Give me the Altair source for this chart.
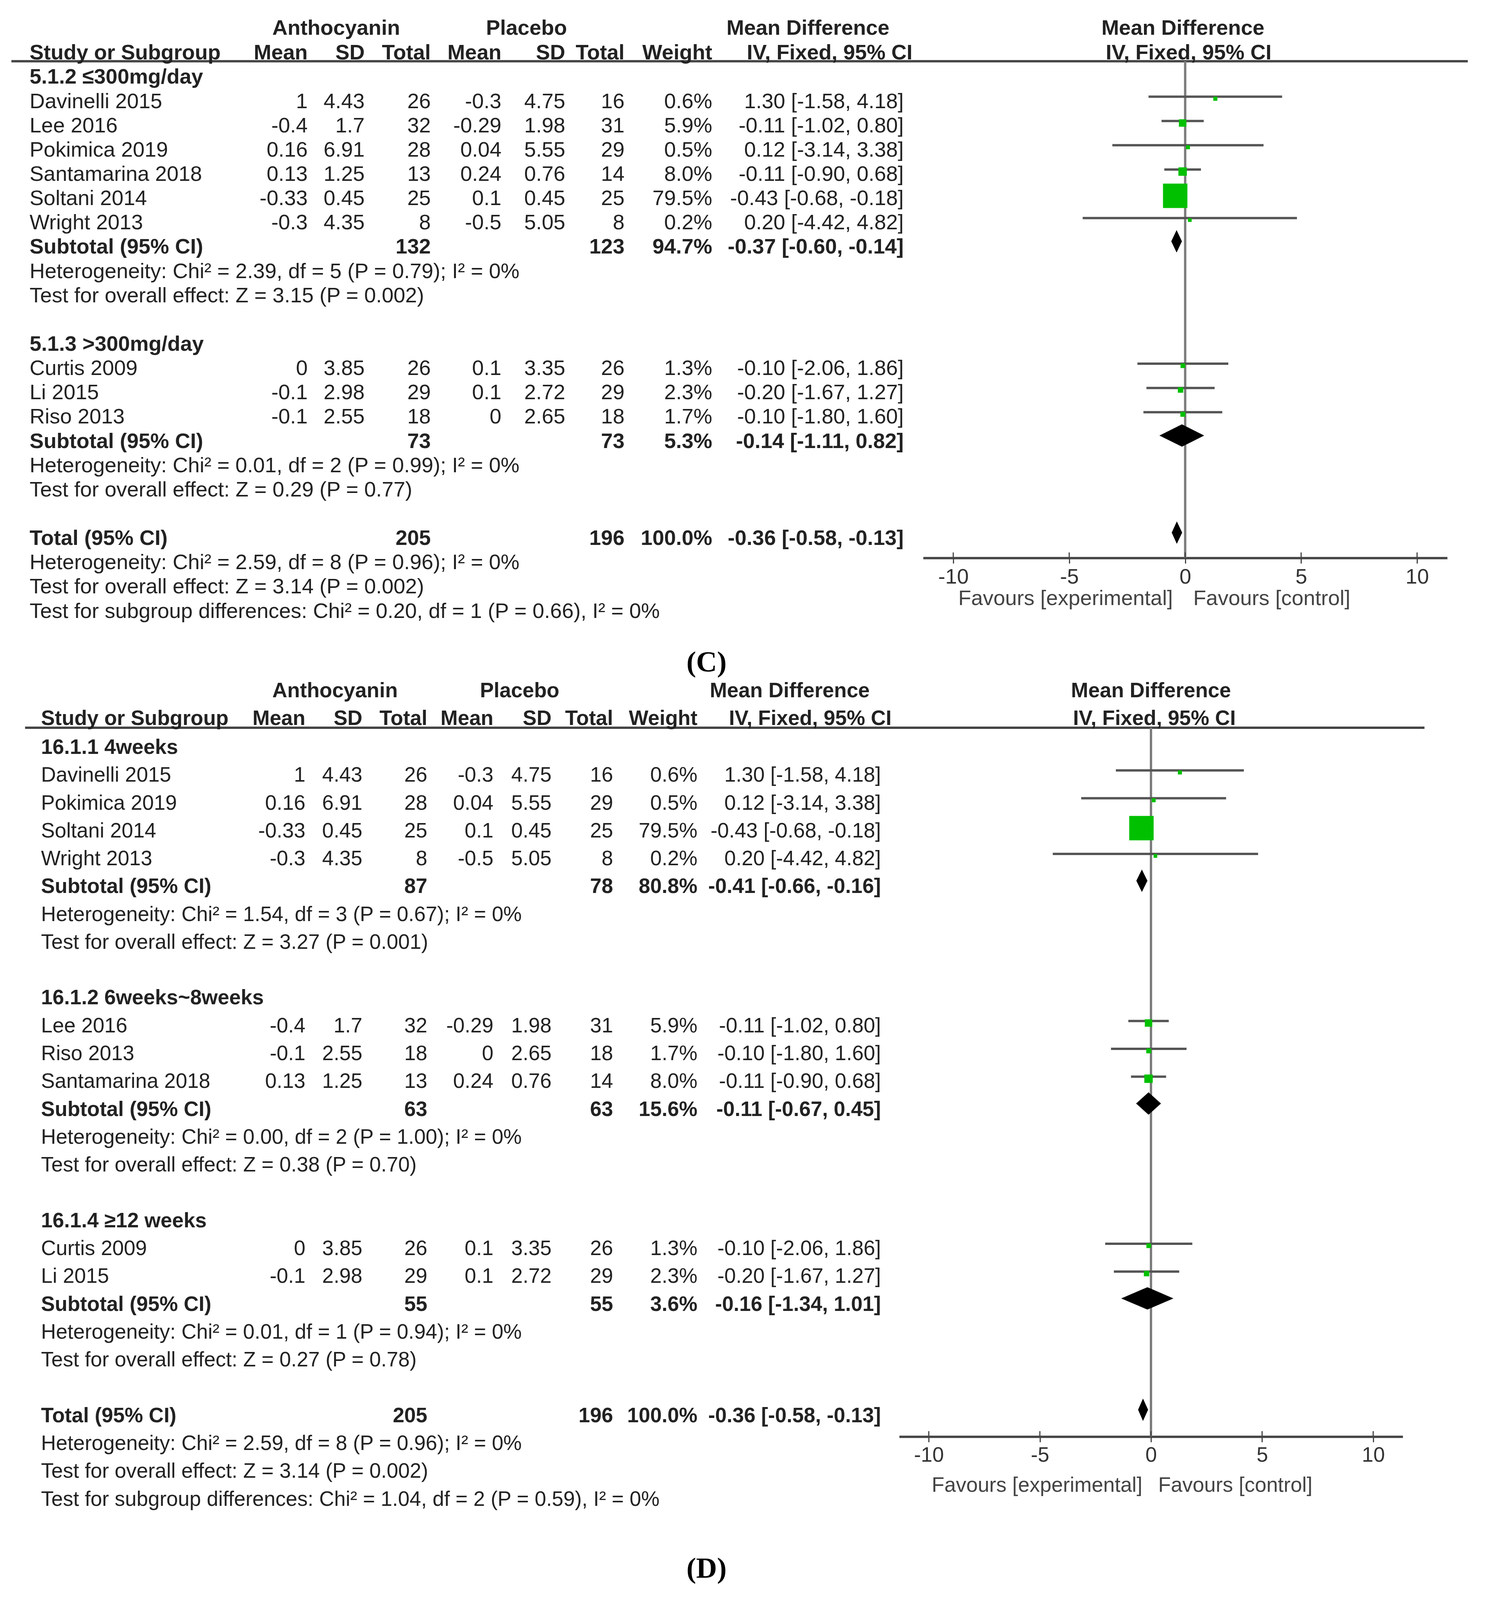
import altair as alt
import pandas as pd

# ---------------- data ----------------
STUDIES = ["Davinelli 2015", "Lee 2016", "Pokimica 2019", "Santamarina 2018", "Soltani 2014",
           "Wright 2013", "Curtis 2009", "Li 2015", "Riso 2013"]
A_MEAN = ["1", "-0.4", "0.16", "0.13", "-0.33", "-0.3", "0", "-0.1", "-0.1"]
A_SD = ["4.43", "1.7", "6.91", "1.25", "0.45", "4.35", "3.85", "2.98", "2.55"]
A_N = [26, 32, 28, 13, 25, 8, 26, 29, 18]
P_MEAN = ["-0.3", "-0.29", "0.04", "0.24", "0.1", "-0.5", "0.1", "0.1", "0"]
P_SD = ["4.75", "1.98", "5.55", "0.76", "0.45", "5.05", "3.35", "2.72", "2.65"]
P_N = [16, 31, 29, 14, 25, 8, 26, 29, 18]
WEIGHT = [0.6, 5.9, 0.5, 8.0, 79.5, 0.2, 1.3, 2.3, 1.7]
MD = [1.30, -0.11, 0.12, -0.11, -0.43, 0.20, -0.10, -0.20, -0.10]
LO = [-1.58, -1.02, -3.14, -0.90, -0.68, -4.42, -2.06, -1.67, -1.80]
HI = [4.18, 0.80, 3.38, 0.68, -0.18, 4.82, 1.86, 1.27, 1.60]

C_TITLES = ["5.1.2 \u2264300mg/day", "5.1.3 >300mg/day"]
C_MEMBERS = [["Davinelli 2015", "Lee 2016", "Pokimica 2019", "Santamarina 2018", "Soltani 2014", "Wright 2013"],
             ["Curtis 2009", "Li 2015", "Riso 2013"]]
C_SUB_NA = [132, 73]
C_SUB_NP = [123, 73]
C_SUB_W = [94.7, 5.3]
C_SUB_MD = [-0.37, -0.14]
C_SUB_LO = [-0.60, -1.11]
C_SUB_HI = [-0.14, 0.82]
C_HET = ["Heterogeneity: Chi\u00b2 = 2.39, df = 5 (P = 0.79); I\u00b2 = 0%",
         "Heterogeneity: Chi\u00b2 = 0.01, df = 2 (P = 0.99); I\u00b2 = 0%"]
C_TEST = ["Test for overall effect: Z = 3.15 (P = 0.002)",
          "Test for overall effect: Z = 0.29 (P = 0.77)"]
C_TOTAL = [205, 196, 100.0, -0.36, -0.58, -0.13]
C_FOOT = ["Heterogeneity: Chi\u00b2 = 2.59, df = 8 (P = 0.96); I\u00b2 = 0%",
          "Test for overall effect: Z = 3.14 (P = 0.002)",
          "Test for subgroup differences: Chi\u00b2 = 0.20, df = 1 (P = 0.66), I\u00b2 = 0%"]

D_TITLES = ["16.1.1 4weeks", "16.1.2 6weeks~8weeks", "16.1.4 \u226512 weeks"]
D_MEMBERS = [["Davinelli 2015", "Pokimica 2019", "Soltani 2014", "Wright 2013"],
             ["Lee 2016", "Riso 2013", "Santamarina 2018"],
             ["Curtis 2009", "Li 2015"]]
D_SUB_NA = [87, 63, 55]
D_SUB_NP = [78, 63, 55]
D_SUB_W = [80.8, 15.6, 3.6]
D_SUB_MD = [-0.41, -0.11, -0.16]
D_SUB_LO = [-0.66, -0.67, -1.34]
D_SUB_HI = [-0.16, 0.45, 1.01]
D_HET = ["Heterogeneity: Chi\u00b2 = 1.54, df = 3 (P = 0.67); I\u00b2 = 0%",
         "Heterogeneity: Chi\u00b2 = 0.00, df = 2 (P = 1.00); I\u00b2 = 0%",
         "Heterogeneity: Chi\u00b2 = 0.01, df = 1 (P = 0.94); I\u00b2 = 0%"]
D_TEST = ["Test for overall effect: Z = 3.27 (P = 0.001)",
          "Test for overall effect: Z = 0.38 (P = 0.70)",
          "Test for overall effect: Z = 0.27 (P = 0.78)"]
D_TOTAL = [205, 196, 100.0, -0.36, -0.58, -0.13]
D_FOOT = ["Heterogeneity: Chi\u00b2 = 2.59, df = 8 (P = 0.96); I\u00b2 = 0%",
          "Test for overall effect: Z = 3.14 (P = 0.002)",
          "Test for subgroup differences: Chi\u00b2 = 1.04, df = 2 (P = 0.59), I\u00b2 = 0%"]

TICKS = [-10, -5, 0, 5, 10]
HEAD1 = ["Anthocyanin", "Placebo", "Mean Difference", "Mean Difference"]
HEAD2 = ["Mean", "SD", "Total", "Mean", "SD", "Total", "Weight"]
HEAD_IV = "IV, Fixed, 95% CI"
FAVOURS = ["Favours [experimental]", "Favours [control]"]

# ---------------- style / layout ----------------
SX = 3824 / 1311.0         # preview units -> page px, horizontal
SY = 2.611                 # preview units -> page px, vertical (fits the photographed area)
FONT = "Liberation Sans"
SERIF = "Liberation Serif"
TXT = "#222222"
LINE = "#454545"
GREEN = "#00c000"
W = 3808
TOP_D = round(663 * SY)
H_C = TOP_D - 8
H_D = 4080 - TOP_D


def fmt_ci(md, lo, hi):
    return f"{md:.2f} [{lo:.2f}, {hi:.2f}]"


def build_tables(titles, members, sna, snp, sw, smd, slo, shi, het, test, total, foot):
    rows, studies, diam = [], [], []
    r = 0
    for g in range(len(titles)):
        rows.append(dict(row=r, label=titles[g], bold=True)); r += 1
        for s in members[g]:
            i = STUDIES.index(s)
            rows.append(dict(row=r, label=s, amean=A_MEAN[i], asd=A_SD[i], an=str(A_N[i]),
                             pmean=P_MEAN[i], psd=P_SD[i], pn=str(P_N[i]),
                             weight=f"{WEIGHT[i]:.1f}%", ci=fmt_ci(MD[i], LO[i], HI[i]), bold=False))
            studies.append(dict(row=r, md=MD[i], lo=LO[i], hi=HI[i], w=WEIGHT[i]))
            r += 1
        rows.append(dict(row=r, label="Subtotal (95% CI)", an=str(sna[g]), pn=str(snp[g]),
                         weight=f"{sw[g]:.1f}%", ci=fmt_ci(smd[g], slo[g], shi[g]), bold=True))
        diam.append(dict(row=r, md=smd[g], lo=slo[g], hi=shi[g]))
        r += 1
        rows.append(dict(row=r, label=het[g], bold=False)); r += 1
        rows.append(dict(row=r, label=test[g], bold=False)); r += 1
        r += 1
    rows.append(dict(row=r, label="Total (95% CI)", an=str(total[0]), pn=str(total[1]),
                     weight=f"{total[2]:.1f}%", ci=fmt_ci(total[3], total[4], total[5]), bold=True))
    diam.append(dict(row=r, md=total[3], lo=total[4], hi=total[5]))
    r += 1
    for f in foot:
        rows.append(dict(row=r, label=f, bold=False)); r += 1
    df = pd.DataFrame(rows)
    for c in ["amean", "asd", "an", "pmean", "psd", "pn", "weight", "ci"]:
        df[c] = df[c].fillna("")
    return df, pd.DataFrame(studies), diam


def panel(cfg, tables):
    df, studies, diam = tables
    H = cfg["H"]
    top = cfg["top"]
    yy = lambda v: v * SY - top
    xx = lambda v: v * SX - 8
    row0 = yy(cfg["row0"])
    step = cfg["step"] * SY
    fs = cfg["fs"]
    ysc = alt.Scale(domain=[(0 - row0) / step, (H - row0) / step], reverse=True, nice=False, zero=False)
    zero = xx(cfg["zero"])
    unit = cfg["unit"] * SX
    half = cfg["half"]
    xsc = alt.Scale(domain=[-half, half], range=[zero - half * unit, zero + half * unit], nice=False, zero=False)
    axis_y = yy(cfg["axis"])
    line_y = yy(cfg["line"])
    axis = alt.Axis(values=TICKS, title=None, grid=False, orient="bottom", offset=-(H - axis_y),
                    domainColor=LINE, domainWidth=6, tickColor=LINE, tickWidth=3, tickSize=14,
                    labelFont=FONT, labelFontSize=fs, labelColor="#333333", labelPadding=8,
                    labelExpr="'' + datum.value", labelFlush=False)

    def X(f):
        return alt.X(f, type="quantitative", scale=xsc, axis=axis)

    def Y(f):
        return alt.Y(f, type="quantitative", scale=ysc, axis=None, stack=None)

    sh = SY / step  # one preview unit in row units
    one = pd.DataFrame({"a": [0]})
    layers = []
    layers.append(alt.Chart(one).mark_rule(color=LINE, strokeWidth=6).encode(
        x=alt.value(xx(cfg["lx1"])), x2=alt.value(xx(cfg["lx2"])), y=alt.value(line_y)))
    layers.append(alt.Chart(pd.DataFrame({"z": [0]})).mark_rule(color="#7c7c7c", strokeWidth=6).encode(
        x=X("z"), y=alt.value(line_y), y2=alt.value(axis_y)))
    layers.append(alt.Chart(pd.DataFrame({"t": TICKS})).mark_rule(color=LINE, strokeWidth=3).encode(
        x=X("t"), y=alt.value(axis_y - 14), y2=alt.value(axis_y)))
    st = studies.copy()
    st["yl"] = st["row"] - 5.0 * sh
    st["ys"] = st["row"] - 3.0 * sh
    layers.append(alt.Chart(st).mark_rule(color="#555555", strokeWidth=6).encode(
        x=X("lo"), x2="hi", y=Y("yl")))
    layers.append(alt.Chart(st).mark_square(color=GREEN, filled=True, opacity=1).encode(
        x=X("md"), y=Y("ys"),
        size=alt.Size("w", type="quantitative", scale=alt.Scale(domain=[0, 79.5], range=[80, 3900]), legend=None)))
    hh = 11.0 * sh
    off = 6.0 * sh
    pts = []
    for k, d in enumerate(diam):
        yc = d["row"] - off
        pts.append(dict(id=k, dx=d["lo"], y1=yc, y2=yc))
        pts.append(dict(id=k, dx=d["md"], y1=yc - hh, y2=yc + hh))
        pts.append(dict(id=k, dx=d["hi"], y1=yc, y2=yc))
    layers.append(alt.Chart(pd.DataFrame(pts)).mark_area(color="black", orient="vertical", opacity=1).encode(
        x=X("dx"), y=Y("y1"), y2="y2", detail="id:N"))

    cols = ["amean", "asd", "an", "pmean", "psd", "pn", "weight", "ci"]
    for bold in [True, False]:
        sub = df[df["bold"] == bold]
        wt = "bold" if bold else "normal"
        layers.append(alt.Chart(sub).mark_text(align="left", baseline="middle", font=FONT, fontSize=fs,
                                               fontWeight=wt, color=TXT).encode(
            x=alt.value(xx(cfg["labx"])), y=Y("row"), text="label:N"))
        for c, rx in zip(cols, cfg["rights"]):
            layers.append(alt.Chart(sub).mark_text(align="right", baseline="middle", font=FONT, fontSize=fs,
                                                   fontWeight=wt, color=TXT).encode(
                x=alt.value(xx(rx)), y=Y("row"), text=f"{c}:N"))

    def htext(txt, x, y, align):
        return alt.Chart(pd.DataFrame({"t": [txt]})).mark_text(
            align=align, baseline="middle", font=FONT, fontSize=fs, fontWeight="bold", color=TXT).encode(
            x=alt.value(xx(x)), y=alt.value(yy(y)), text="t:N")

    for txt, x in zip(HEAD1, cfg["h1x"]):
        layers.append(htext(txt, x, cfg["h1y"], "center"))
    layers.append(htext("Study or Subgroup", cfg["labx"], cfg["h2y"], "left"))
    for txt, x in zip(HEAD2, cfg["rights"][:7]):
        layers.append(htext(txt, x, cfg["h2y"], "right"))
    for x in cfg["ivx"]:
        layers.append(htext(HEAD_IV, x, cfg["h2y"], "center"))
    for txt, x in zip(FAVOURS, cfg["favx"]):
        layers.append(alt.Chart(pd.DataFrame({"t": [txt]})).mark_text(
            align="center", baseline="middle", font=FONT, fontSize=fs, color="#444444").encode(
            x=alt.value(xx(x)), y=alt.value(yy(cfg["favy"])), text="t:N"))
    layers.append(alt.Chart(pd.DataFrame({"t": [cfg["tag"]]})).mark_text(
        align="center", baseline="middle", font=SERIF, fontSize=74, fontWeight="bold", color="black").encode(
        x=alt.value(xx(620)), y=alt.value(yy(cfg["tagy"])), text="t:N"))

    return alt.layer(*layers).properties(width=W, height=H)


CFG_C = dict(H=H_C, top=8, row0=76, step=23.8, fs=54, zero=1040, unit=20.35, half=11.3,
             axis=547, line=60, lx1=10, lx2=1288, labx=26,
             rights=[270, 320, 378, 440, 496, 548, 625, 793],
             h1x=[295, 462, 709, 1038], h1y=28, h2y=52, ivx=[728, 1043],
             favx=[935, 1116], favy=587, tag="(C)", tagy=650)
CFG_D = dict(H=H_D, top=TOP_D, row0=731.5, step=27.3, fs=53, zero=1010, unit=19.5, half=11.33,
             axis=1407, line=712, lx1=22, lx2=1250, labx=36,
             rights=[268, 318, 375, 433, 484, 538, 612, 773],
             h1x=[294, 456, 693, 1010], h1y=676, h2y=703, ivx=[711, 1013],
             favx=[910, 1084], favy=1455, tag="(D)", tagy=1537)

tc = build_tables(C_TITLES, C_MEMBERS, C_SUB_NA, C_SUB_NP, C_SUB_W, C_SUB_MD, C_SUB_LO, C_SUB_HI,
                  C_HET, C_TEST, C_TOTAL, C_FOOT)
td = build_tables(D_TITLES, D_MEMBERS, D_SUB_NA, D_SUB_NP, D_SUB_W, D_SUB_MD, D_SUB_LO, D_SUB_HI,
                  D_HET, D_TEST, D_TOTAL, D_FOOT)

chart = alt.vconcat(panel(CFG_C, tc), panel(CFG_D, td), spacing=0).properties(
    padding=0, background="white").configure_view(stroke=None)

chart.save("out.html", embed_options={"renderer": "svg", "actions": False})
